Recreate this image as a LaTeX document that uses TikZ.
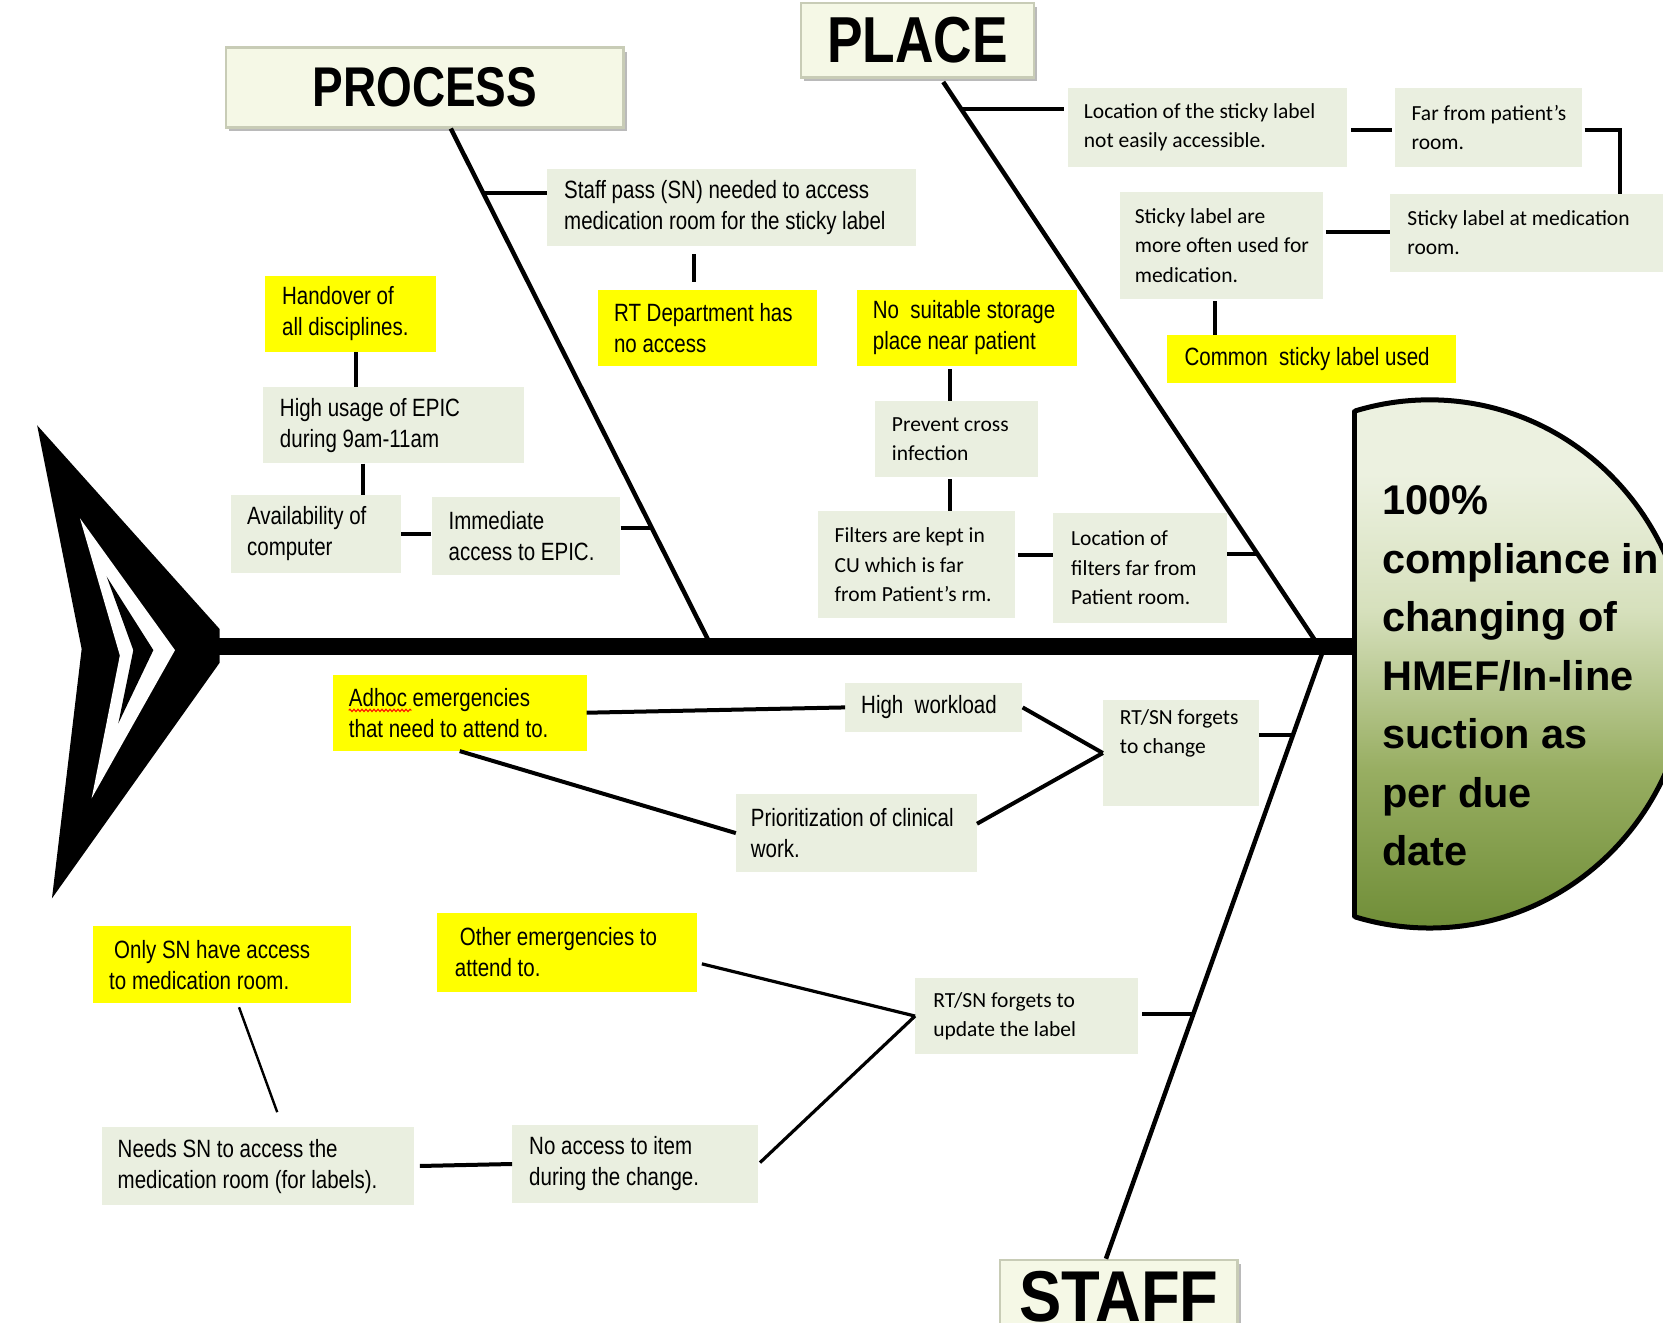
\documentclass[tikz,border=0pt]{standalone}
\usepackage{fontspec}
\setmainfont{Liberation Sans}
\newfontfamily\narfont[FakeStretch=0.82]{Liberation Sans}
\newfontfamily\narwfont[FakeStretch=0.88]{Liberation Sans}
\newfontfamily\calfont{Carlito}
\newfontfamily\effont{Liberation Sans}
\usetikzlibrary{calc,fit,shadows,decorations.pathmorphing}
\definecolor{boxg}{RGB}{234,239,224}
\definecolor{headfill}{RGB}{245,248,230}
\definecolor{headline}{RGB}{200,204,182}
\definecolor{effT}{RGB}{236,241,224}
\definecolor{effL}{RGB}{214,224,188}
\definecolor{effM}{RGB}{152,174,98}
\definecolor{effB}{RGB}{112,142,56}
\definecolor{yel}{RGB}{255,255,0}
\pgfdeclareverticalshading{effshade}{100bp}{color(0bp)=(effB); color(25bp)=(effB); color(40bp)=(effM); color(55bp)=(effL); color(68bp)=(effT); color(100bp)=(effT)}
\begin{document}
\begin{tikzpicture}[x=1.0606pt,y=-1.0606pt,
  gbox/.style={fill=boxg, inner sep=0pt, draw=none},
  ybox/.style={fill=yel, inner sep=0pt, draw=none},
  ntxt/.style={anchor=west, align=left, inner sep=0pt, font=\narfont\fontsize{25}{31}\selectfont},
  ctxt/.style={anchor=west, align=left, inner sep=0pt, font=\calfont\fontsize{21.5}{29.5}\selectfont},
  conn/.style={line width=4pt},
  midconn/.style={line width=3.2pt},
  thinconn/.style={line width=2.4pt},
  bone/.style={line width=4.5pt},
  headbox/.style={fill=headfill, draw=headline, line width=2.5pt, inner sep=0pt,
     drop shadow={shadow xshift=3pt, shadow yshift=-4pt, opacity=0.45, fill=black!60}},
  headtxt/.style={anchor=center, inner sep=0pt},
]
\useasboundingbox (0,0) rectangle (1568,1246.5);

% ---------- spine ----------
\coordinate (tail) at (205,610);
\coordinate (headpt) at (1277,610);
\draw[line width=17pt] (tail) -- (headpt);

% ---------- chevron tail ----------
\fill[black] (35,401) -- (207,593) -- (207,625) -- (49,847) -- (77,612) -- cycle;
\fill[white] (75.4,488.7) -- (165,613) -- (86.4,752.7) -- (113,618) -- cycle;
\fill[black] (100.6,543.7) -- (144.6,613) -- (111.6,682) -- (125.7,613) -- cycle;

% ---------- effect head ----------
\begin{scope}
\clip (1277,300) rectangle (1700,1000);
\shade[shading=effshade] (1348,626) ellipse [x radius=244, y radius=249];
\draw[line width=5pt] (1348,626) ellipse [x radius=244, y radius=249];
\end{scope}
\draw[line width=5pt, line cap=round] (1277,388) -- (1277,864);
\node[anchor=north west, align=left, inner sep=0pt, font=\effont\bfseries\fontsize{41.5}{58.5}\selectfont] (eff) at (1303,458)
 {100\%\\compliance in\\changing of\\HMEF/In-line\\suction as\\per due\\date};

% ---------- category headings ----------
\node[headbox, fit={(213,45) (588,120)}] (proc) {};
\node[headtxt, font=\narfont\bfseries\fontsize{56}{56}\selectfont] (proct) at (proc.center) {PROCESS};
\node[headbox, fit={(755,3) (975,73)}] (place) {};
\node[headtxt, font=\narfont\bfseries\fontsize{65}{65}\selectfont] (placet) at (place.center) {PLACE};
\node[headbox, fit={(943,1188) (1167,1258)}] (staff) {};
\node[headtxt, font=\narwfont\bfseries\fontsize{72}{72}\selectfont] (stafft) at (staff.center) {STAFF};

% ---------- bones ----------
\coordinate (j1) at (668,604);
\coordinate (j2) at (1240,604);
\coordinate (j3) at (1248,612);
\draw[bone] ($(proc.south west)!0.565!(proc.south east)$) -- (j1);
\draw[bone, shorten <=4pt] ($(place.south west)!0.6!(place.south east)$) -- (j2);
\draw[bone] (j3) -- ($(staff.north west)!0.446!(staff.north east)$);

% ---------- PROCESS boxes ----------
\node[gbox, fit={(516,159) (864,232)}] (b1) {};
\node[ntxt] (t1) at ($(b1.west)+(16,0)$) {Staff pass (SN) needed to access\\medication room for the sticky label};
\node[ybox, fit={(564,273) (770,345)}] (b2) {};
\node[ntxt] (t2) at ($(b2.west)+(15,0)$) {RT Department has\\no access};
\node[ybox, fit={(250,260) (411,332)}] (b3) {};
\node[ntxt] (t3) at ($(b3.west)+(16,0)$) {Handover of\\all disciplines.};
\node[gbox, fit={(248,365) (494,437)}] (b4) {};
\node[ntxt] (t4) at ($(b4.west)+(16,0)$) {High usage of EPIC\\during 9am-11am};
\node[gbox, fit={(218,467) (378,540)}] (b5) {};
\node[ntxt] (t5) at ($(b5.west)+(15,0)$) {Availability of\\computer};
\node[gbox, fit={(407,469) (585,542)}] (b6) {};
\node[ntxt] (t6) at ($(b6.west)+(16,0)$) {Immediate\\access to EPIC.};

% ---------- PLACE boxes ----------
\node[ybox, fit={(808,273) (1015,345)}] (b7) {};
\node[ntxt] (t7) at ($(b7.west)+(15,0)$) {No\ \ suitable storage\\place near patient};
\node[gbox, fit={(825,378) (979,450)}] (b8) {};
\node[ctxt] (t8) at ($(b8.west)+(16,0)$) {Prevent cross\\infection};
\node[gbox, fit={(771,482) (957,583)}] (b9) {};
\node[ctxt] (t9) at ($(b9.west)+(16,0)$) {Filters are kept in\\CU which is far\\from Patient’s rm.};
\node[gbox, fit={(993,484) (1157,587)}] (b10) {};
\node[ctxt] (t10) at ($(b10.west)+(17,0)$) {Location of\\filters far from\\Patient room.};
\node[gbox, fit={(1007,83) (1270,157)}] (b11) {};
\node[ctxt] (t11) at ($(b11.west)+(15,0)$) {Location of the sticky label\\not easily accessible.};
\node[gbox, fit={(1315,83) (1492,157)}] (b12) {};
\node[ctxt] (t12) at ($(b12.west)+(16,0)$) {Far from patient’s\\room.};
\node[gbox, fit={(1311,183) (1575,256)}] (b13) {};
\node[ctxt] (t13) at ($(b13.west)+(16,0)$) {Sticky label at medication\\room.};
\node[gbox, fit={(1056,181) (1247,282)}] (b14) {};
\node[ctxt] (t14) at ($(b14.west)+(14,0)$) {Sticky label are\\more often used for\\medication.};
\node[ybox, fit={(1100,316) (1373,361)}] (b15) {};
\node[ntxt] (t15) at ($(b15.west)+(17,0)$) {Common\ \ sticky label used};

% ---------- STAFF boxes ----------
\node[ybox, fit={(314,636) (553,708)}] (b16) {};
\node[ntxt] (t16) at ($(b16.west)+(15,0)$) {Adhoc emergencies\\that need to attend to.};
\draw[red, line width=1pt, decorate, decoration={snake, amplitude=1.2pt, segment length=4pt}]
  ($(b16.north west)+(15,34)$) -- ($(b16.north west)+(74,34)$);
\node[gbox, fit={(797,644) (964,690)}] (b17) {};
\node[ntxt] (t17) at ($(b17.west)+(15,0)$) {High\ \ workload};
\node[gbox, fit={(1040,660) (1187,760)}] (b18) {};
\node[ctxt, anchor=north west] (t18) at ($(b18.north west)+(16,9)$) {RT/SN forgets\\to change};
\node[gbox, fit={(694,749) (921,822)}] (b19) {};
\node[ntxt] (t19) at ($(b19.west)+(14,0)$) {Prioritization of clinical\\work.};
\node[ybox, fit={(88,873) (331,946)}] (b20) {};
\node[ntxt] (t20) at ($(b20.west)+(15,0)$) {\hspace{5pt}Only SN have access\\to medication room.};
\node[ybox, fit={(412,861) (657,935)}] (b21) {};
\node[ntxt] (t21) at ($(b21.west)+(17,0)$) {\hspace{5pt}Other emergencies to\\attend to.};
\node[gbox, fit={(863,922) (1073,994)}] (b22) {};
\node[ctxt] (t22) at ($(b22.west)+(17,0)$) {RT/SN forgets to\\update the label};
\node[gbox, fit={(96,1063) (390,1136)}] (b23) {};
\node[ntxt] (t23) at ($(b23.west)+(15,0)$) {Needs SN to access the\\medication room (for labels).};
\node[gbox, fit={(483,1061) (715,1134)}] (b24) {};
\node[ntxt] (t24) at ($(b24.west)+(16,0)$) {No access to item\\during the change.};

% ---------- connectors: PROCESS ----------
\coordinate (pb1) at (456,182);
\draw[conn] (pb1) -- (pb1 -| b1.west);
\coordinate (v12) at ($(b2.north west)!0.44!(b2.north east)$);
\draw[conn, shorten <=8pt, shorten >=7pt] (v12 |- b1.south) -- (v12);
\coordinate (v34) at ($(b3.south west)!0.53!(b3.south east)$);
\draw[conn] (v34) -- (v34 |- b4.north);
\coordinate (v45) at ($(b5.north west)!0.775!(b5.north east)$);
\draw[conn] (v45 |- b4.south) -- (v45);
\draw[conn] (b5.east) -- (b5.east -| b6.west);
\coordinate (pb6) at (615,498);
\draw[conn] (pb6 -| b6.east) -- (pb6);

% ---------- connectors: PLACE ----------
\coordinate (v78) at ($(b8.north west)!0.46!(b8.north east)$);
\draw[conn, shorten <=3pt] (v78 |- b7.south) -- (v78);
\draw[conn, shorten <=2pt] (v78 |- b8.south) -- (v78 |- b9.north);
\coordinate (h910) at ($(b10.north west)!0.38!(b10.south west)$);
\draw[conn, shorten <=3pt] (h910 -| b9.east) -- (h910);
\coordinate (pb10) at (1185,522);
\draw[conn] (pb10 -| b10.east) -- (pb10);
\coordinate (pb11) at (905,103);
\draw[conn, shorten >=4pt] (pb11) -- (pb11 -| b11.west);
\coordinate (h1112) at ($(b12.north west)!0.53!(b12.south west)$);
\draw[conn, shorten <=4pt, shorten >=2pt] (h1112 -| b11.east) -- (h1112);
\coordinate (e13) at ($(b13.north west)!0.82!(b13.north east)$);
\draw[conn] ($(h1112 -| b12.east)+(2,0)$) -- (h1112 -| e13) -- (e13);
\coordinate (h1314) at ($(b13.north west)!0.49!(b13.south west)$);
\draw[conn, shorten <=3pt] (h1314 -| b14.east) -- (h1314);
\coordinate (v1415) at ($(b15.north west)!0.168!(b15.north east)$);
\draw[conn, shorten <=2pt] (v1415 |- b14.south) -- (v1415);

% ---------- connectors: STAFF ----------
\draw[conn] (b16.east) -- (b17.west);
\draw[conn] (b16.south) -- (b19.west);
\draw[conn] (b17.east) -- (b18.west);
\coordinate (h19) at ($(b19.north east)!0.38!(b19.south east)$);
\draw[conn] (h19) -- (b18.west);
\coordinate (pb18) at (1219,693);
\draw[conn] (pb18 -| b18.east) -- (pb18);
\coordinate (v20) at ($(b20.south west)!0.56!(b20.south east)$);
\coordinate (v23) at ($(b23.north west)!0.58!(b23.north east)$);
\draw[thinconn, shorten <=4pt, shorten >=16pt] (v20) -- (v23);
\draw[conn, shorten <=6pt] (b23.east) -- (b24.west);
\draw[midconn, shorten <=2pt] (b24.east) -- (b22.west);
\coordinate (h21) at ($(b21.north east)!0.63!(b21.south east)$);
\draw[midconn, shorten <=5pt] (h21) -- (b22.west);
\coordinate (pb22) at (1126,956);
\draw[conn, shorten <=4pt] (pb22 -| b22.east) -- (pb22);
\end{tikzpicture}
\end{document}
